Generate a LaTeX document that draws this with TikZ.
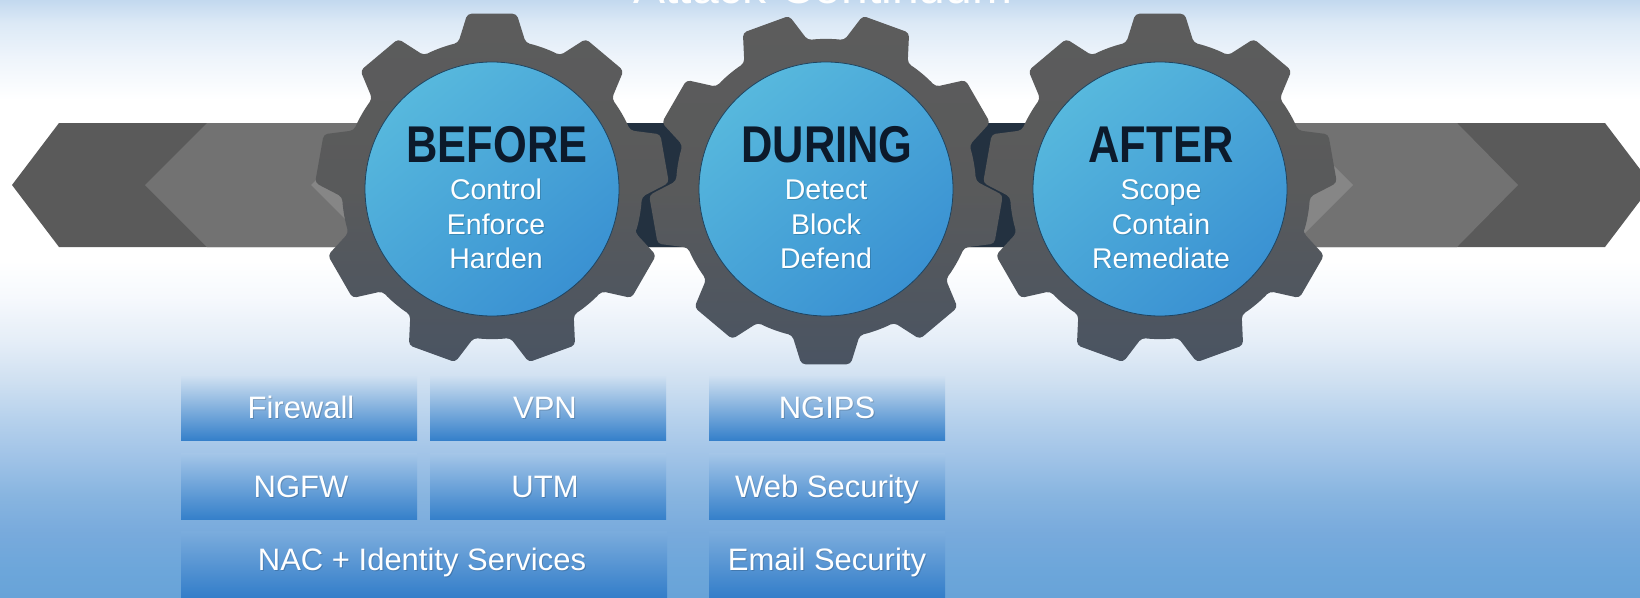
\documentclass[tikz,border=0pt]{standalone}
\usepackage{fontspec}
\setmainfont{Liberation Sans}
\usetikzlibrary{calc}

% sky-to-blue backdrop colours, bottom to top
\definecolor{skyA}{HTML}{68A3D8}
\definecolor{skyB}{HTML}{6CA6DA}
\definecolor{skyC}{HTML}{78AADC}
\definecolor{skyD}{HTML}{88B5E0}
\definecolor{skyE}{HTML}{A0C3E7}
\definecolor{skyF}{HTML}{B6D1EC}
\definecolor{skyG}{HTML}{CFE0F1}
\definecolor{skyH}{HTML}{E4EDF7}
\definecolor{skyI}{HTML}{F6F9FD}
\definecolor{skyJ}{HTML}{EEF4FB}
\definecolor{skyK}{HTML}{DCE9F6}
\definecolor{skyL}{HTML}{C3D9EF}

\definecolor{banddark}{HTML}{5A5A5A}
\definecolor{bandmid}{HTML}{727272}
\definecolor{bandhi}{HTML}{868686}
\definecolor{bandnavy}{HTML}{233140}
\definecolor{geartop}{HTML}{5C5C5C}
\definecolor{gearmid}{HTML}{595A5B}
\definecolor{gearbot}{HTML}{4A5462}
\definecolor{disclight}{HTML}{57B8DD}
\definecolor{discdark}{HTML}{3A91D2}
\definecolor{discedge}{HTML}{1F4460}
\definecolor{headnavy}{HTML}{0C1A2B}
\definecolor{boxbot}{HTML}{3580CA}
\definecolor{boxbotlow}{HTML}{2F7BC8}

\pgfdeclareverticalshading{skyfade}{100bp}{%
  color(0bp)=(skyA); color(25bp)=(skyA);
  color(27.18bp)=(skyB); color(30.36bp)=(skyC);
  color(33.54bp)=(skyD); color(36.72bp)=(skyE);
  color(39.91bp)=(skyF); color(43.09bp)=(skyG);
  color(46.27bp)=(skyH); color(50.13bp)=(skyI);
  color(53.22bp)=(white); color(66.62bp)=(white);
  color(70.23bp)=(skyJ); color(73.07bp)=(skyK);
  color(75bp)=(skyL); color(100bp)=(skyL)}

\tikzset{
  gearbody/.style={top color=geartop, bottom color=gearbot, middle color=gearmid, rounded corners=4pt},
  pics/gear/.style={
    code={
      \path[gearbody] ({#1-13}:150)
        \foreach \k [evaluate=\k as \a using #1+40*\k] in {0,...,8} {
          -- ({\a-8}:177) -- ({\a+8}:177) -- ({\a+13}:150)
          arc[start angle=\a+13, end angle=\a+27, radius=150]
        } -- cycle;
    }
  },
  disc/.style={circle, minimum size=254pt, inner sep=0pt, draw=discedge, line width=0.8pt,
    top color=disclight, bottom color=discdark, shading angle=40},
  headtext/.style={anchor=base, inner sep=0pt, text=headnavy,
    font=\bfseries\fontsize{51.7}{60}\selectfont},
  subtext/.style={anchor=base, inner sep=0pt, text=white,
    font=\fontsize{28.5}{34}\selectfont},
  boxtext/.style={anchor=base, inner sep=0pt, text=white,
    font=\fontsize{31}{36}\selectfont},
  titletext/.style={anchor=base, inner sep=0pt, text=white,
    font=\fontsize{48}{56}\selectfont},
  toolbox/.style={rectangle, inner sep=0pt, minimum width=236pt, anchor=north west},
}

% white caption with a soft drop shadow
\newcommand\glowtext[5]{%
  \node[#5, text=black, opacity=.16] (#1-shadow) at (#2+1,#3+1.4) {#4};
  \node[#5] (#1) at (#2,#3) {#4};
}

\begin{document}
\begin{tikzpicture}[x=1pt, y=-1pt]
\useasboundingbox (0,0) rectangle (1640,597);
\clip (0,0) rectangle (1640,597);

% backdrop
\shade[shading=skyfade] (0,0) rectangle (1640,597);

% title, running off the top edge
\node[titletext] (title) at (823,3) {Attack Continuum};

% double-headed band behind the gears
\fill[banddark] (12,185) -- (59,123) -- (1605,123) -- (1652,185) -- (1605,247) -- (59,247) -- cycle;
\fill[bandmid] (145,185) -- (207,123) -- (1457,123) -- (1518,185) -- (1457,247) -- (207,247) -- cycle;
\fill[bandhi] (311,185) -- (373,123) -- (1291,123) -- (1353,185) -- (1291,247) -- (373,247) -- cycle;
\fill[bandnavy] (492,123) rectangle (1160,247);

% three meshing gears
\pic at (492,189) {gear=30};
\pic at (826,189) {gear=10};
\pic at (1160,189) {gear=30};

% blue hubs
\node[disc] (before) at (492,189) {};
\node[disc] (during) at (826,189) {};
\node[disc] (after) at (1160,189) {};

% hub headings
\node[headtext] (before-head) at (497,162) {\scalebox{0.84}[1]{BEFORE}};
\node[headtext] (during-head) at (827,162) {\scalebox{0.84}[1]{DURING}};
\node[headtext] (after-head) at (1161,162) {\scalebox{0.84}[1]{AFTER}};

% hub captions
\glowtext{before-a}{496}{199}{Control}{subtext}
\glowtext{before-b}{496}{234}{Enforce}{subtext}
\glowtext{before-c}{496}{268}{Harden}{subtext}
\glowtext{during-a}{826}{199}{Detect}{subtext}
\glowtext{during-b}{826}{234}{Block}{subtext}
\glowtext{during-c}{826}{268}{Defend}{subtext}
\glowtext{after-a}{1161}{199}{Scope}{subtext}
\glowtext{after-b}{1161}{234}{Contain}{subtext}
\glowtext{after-c}{1161}{268}{Remediate}{subtext}

% technology tiles
\node[toolbox, minimum height=64pt, top color=skyG, bottom color=boxbot] (fw) at (181,376) {};
\node[toolbox, minimum height=64pt, top color=skyG, bottom color=boxbot] (vpn) at (430,376) {};
\node[toolbox, minimum height=64pt, top color=skyG, bottom color=boxbot] (ngips) at (709,376) {};
\node[toolbox, minimum height=66pt, top color=skyE!80!skyF, bottom color=boxbot] (ngfw) at (181,453) {};
\node[toolbox, minimum height=66pt, top color=skyE!80!skyF, bottom color=boxbot] (utm) at (430,453) {};
\node[toolbox, minimum height=66pt, top color=skyE!80!skyF, bottom color=boxbot] (web) at (709,453) {};
\node[toolbox, minimum width=486pt, minimum height=70pt, top color=skyC!80!skyD, bottom color=boxbotlow] (nac) at (181,531) {};
\node[toolbox, minimum height=70pt, top color=skyC!80!skyD, bottom color=boxbotlow] (email) at (709,531) {};

\glowtext{fw-t}{301}{418}{Firewall}{boxtext}
\glowtext{vpn-t}{545}{418}{VPN}{boxtext}
\glowtext{ngips-t}{827}{418}{NGIPS}{boxtext}
\glowtext{ngfw-t}{301}{497}{NGFW}{boxtext}
\glowtext{utm-t}{545}{497}{UTM}{boxtext}
\glowtext{web-t}{827}{497}{Web Security}{boxtext}
\glowtext{nac-t}{422}{570}{NAC + Identity Services}{boxtext}
\glowtext{email-t}{827}{570}{Email Security}{boxtext}
\end{tikzpicture}
\end{document}
